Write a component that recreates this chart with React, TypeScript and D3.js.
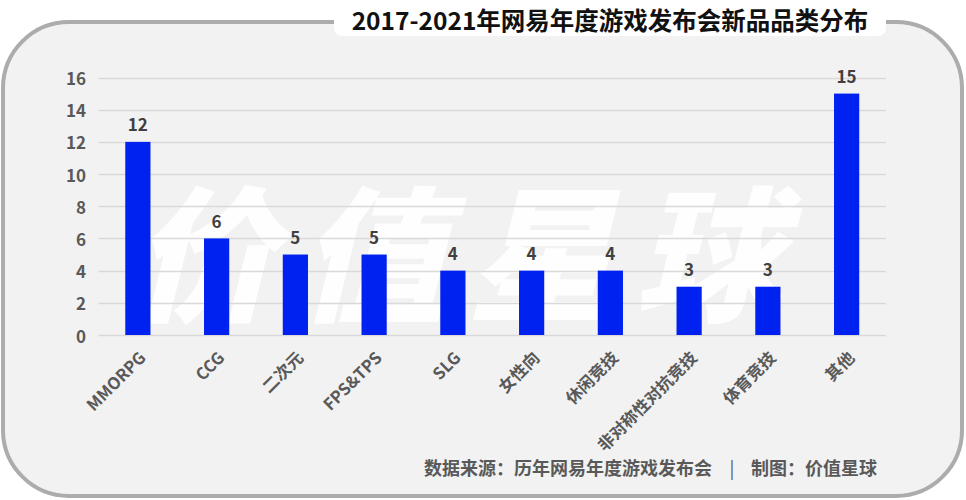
import { useEffect, useRef } from 'react';
import * as d3 from 'd3';

const categories = ['MMORPG', 'CCG', '二次元', 'FPS&TPS', 'SLG', '女性向', '休闲竞技', '非对称性对抗竞技', '体育竞技', '其他'];
const counts = [12, 6, 5, 5, 4, 4, 4, 3, 3, 15];
const yTicks = [0, 2, 4, 6, 8, 10, 12, 14, 16];

const title = '2017-2021年网易年度游戏发布会新品品类分布';
const sourceText = '数据来源：历年网易年度游戏发布会';
const makerText = '制图：价值星球';
const watermark = '价值星球';

const FONT = '"Noto Sans CJK SC", "Noto Sans", sans-serif';

export default function App() {
  const svgRef = useRef<SVGSVGElement>(null);

  useEffect(() => {
    if (!svgRef.current) return;
    const svg = d3.select(svgRef.current);
    svg.selectAll('*').remove();

    const width = 966;
    const height = 500;
    const margin = { top: 77.5, right: 80, bottom: 165, left: 98.5 };

    svg.attr('width', width).attr('height', height).style('font-family', FONT);

    // panel
    svg.append('rect')
      .attr('x', 3).attr('y', 22)
      .attr('width', 959).attr('height', 474)
      .attr('rx', 66).attr('ry', 66)
      .attr('fill', '#f2f2f2')
      .attr('stroke', '#aeabab')
      .attr('stroke-width', 4);

    // title with white backing
    svg.append('rect')
      .attr('x', 334).attr('y', 2)
      .attr('width', 552).attr('height', 34)
      .attr('rx', 8)
      .attr('fill', '#ffffff');

    svg.append('text')
      .attr('x', 610).attr('y', 19)
      .attr('text-anchor', 'middle')
      .attr('dominant-baseline', 'central')
      .attr('font-size', '24.5px')
      .attr('font-weight', '700')
      .attr('fill', '#111111')
      .text(title);

    const x = d3.scaleBand()
      .domain(categories)
      .range([margin.left, width - margin.right])
      .paddingInner(0.68)
      .paddingOuter(0.34);

    const y = d3.scaleLinear()
      .domain([0, 16])
      .range([height - margin.bottom, margin.top]);

    // watermark
    svg.append('text')
      .attr('transform', `translate(483, 246) skewX(-14)`)
      .attr('text-anchor', 'middle')
      .attr('dominant-baseline', 'central')
      .attr('font-size', '146px')
      .attr('font-weight', '900')
      .attr('letter-spacing', '22px')
      .attr('fill', '#ffffff')
      .attr('opacity', 0.95)
      .text(watermark);

    // grid
    svg.append('g')
      .selectAll('line')
      .data(yTicks)
      .enter()
      .append('line')
      .attr('x1', margin.left)
      .attr('x2', width - margin.right)
      .attr('y1', (d) => Math.round(y(d)) + 0.5)
      .attr('y2', (d) => Math.round(y(d)) + 0.5)
      .attr('stroke', '#d9d9d9')
      .attr('stroke-width', 1.5);

    // y labels
    svg.append('g')
      .selectAll('text')
      .data(yTicks)
      .enter()
      .append('text')
      .attr('x', 86)
      .attr('y', (d) => y(d))
      .attr('text-anchor', 'end')
      .attr('dominant-baseline', 'central')
      .attr('font-size', '17px')
      .attr('font-weight', '700')
      .attr('fill', '#595959')
      .text((d) => d);

    // bars
    svg.append('g')
      .selectAll('rect')
      .data(categories)
      .enter()
      .append('rect')
      .attr('x', (d) => x(d)!)
      .attr('y', (d, i) => y(counts[i]))
      .attr('width', x.bandwidth())
      .attr('height', (d, i) => y(0) - y(counts[i]))
      .attr('fill', '#0022f0');

    // value labels
    svg.append('g')
      .selectAll('text')
      .data(categories)
      .enter()
      .append('text')
      .attr('x', (d) => x(d)! + x.bandwidth() / 2)
      .attr('y', (d, i) => y(counts[i]) - 18)
      .attr('text-anchor', 'middle')
      .attr('dominant-baseline', 'central')
      .attr('font-size', '17px')
      .attr('font-weight', '700')
      .attr('fill', '#404040')
      .text((d, i) => counts[i]);

    // x labels, rotated
    svg.append('g')
      .selectAll('text')
      .data(categories)
      .enter()
      .append('text')
      .attr('transform', (d) => `translate(${x(d)! + x.bandwidth() / 2 + 4}, 354) rotate(-45)`)
      .attr('text-anchor', 'end')
      .attr('dominant-baseline', 'central')
      .attr('font-size', '16.5px')
      .attr('font-weight', '700')
      .attr('fill', '#595959')
      .text((d) => d);

    // footer
    const footer = svg.append('g')
      .attr('font-size', '18px')
      .attr('font-weight', '700')
      .attr('fill', '#595959');

    footer.append('text')
      .attr('x', 712).attr('y', 467)
      .attr('text-anchor', 'end')
      .attr('dominant-baseline', 'central')
      .text(sourceText);

    footer.append('text')
      .attr('x', 732).attr('y', 467)
      .attr('text-anchor', 'middle')
      .attr('dominant-baseline', 'central')
      .attr('font-weight', '400')
      .text('|');

    footer.append('text')
      .attr('x', 751).attr('y', 467)
      .attr('text-anchor', 'start')
      .attr('dominant-baseline', 'central')
      .text(makerText);
  }, []);

  return (
    <svg
      ref={svgRef}
      style={{ position: 'absolute', left: 0, top: 0, display: 'block', background: '#ffffff' }}
    ></svg>
  );
}
